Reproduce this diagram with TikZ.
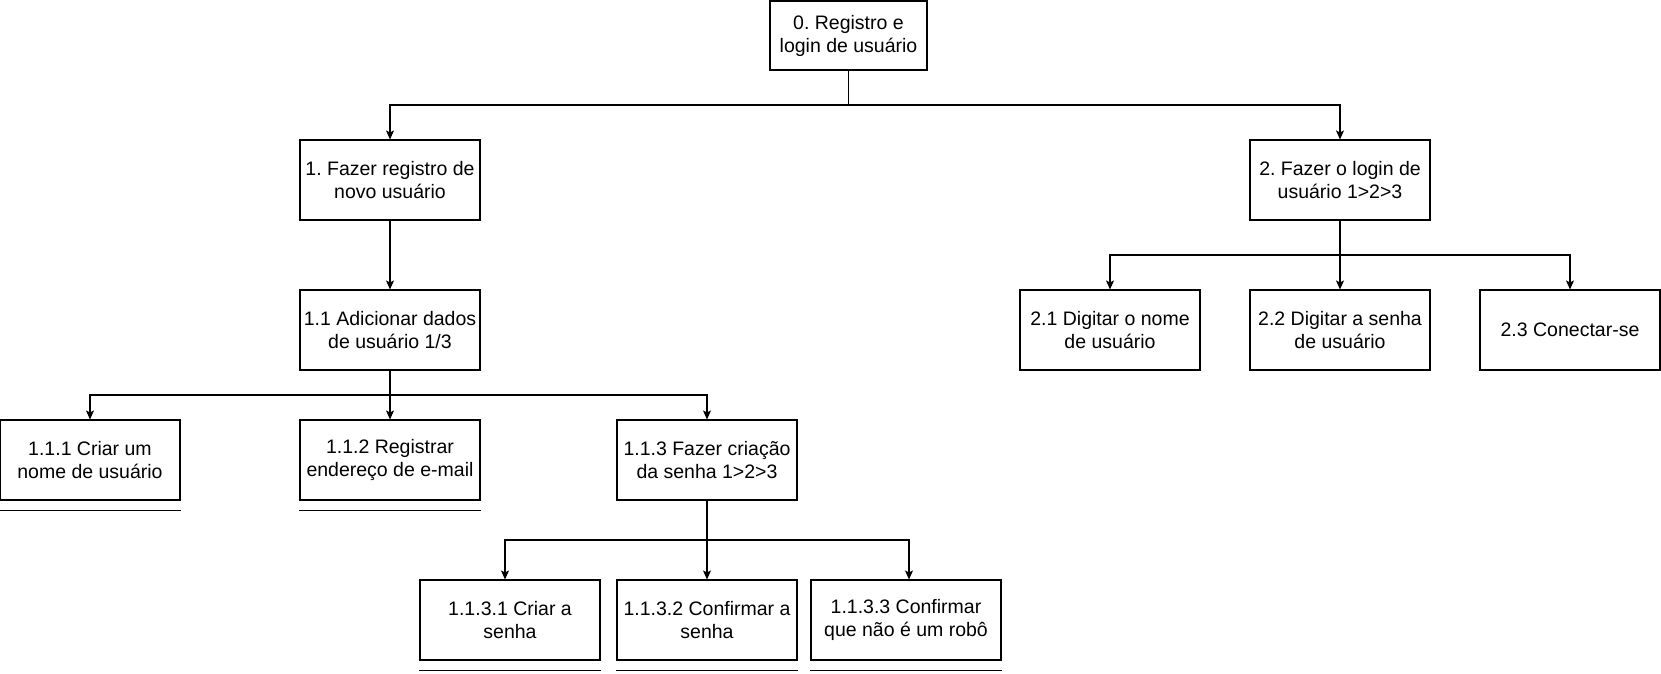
\documentclass[tikz,border=0pt]{standalone}
\usepackage{fontspec}
\setmainfont{Liberation Sans}
\frenchspacing
\usetikzlibrary{arrows.meta}
\begin{document}
\begin{tikzpicture}[x=1pt,y=-1pt,
  box/.style={draw, line width=1.15pt, minimum width=180pt, minimum height=80pt, inner sep=0pt, align=center, font=\fontsize{19.5}{23}\selectfont},
  arr/.style={line width=1.15pt, -{Stealth[length=9pt,width=8pt,inset=2pt]}},
  conn/.style={line width=1.15pt},
  uline/.style={line width=1.15pt}]
\useasboundingbox (0,0) rectangle (1661,673);
\node[box, minimum width=157pt, minimum height=69pt] (root) at (848.5,35.5) {0. Registro e\\login de usuário};
\node[box] (n1) at (390,180) {1. Fazer registro de\\novo usuário};
\node[box] (n2) at (1340,180) {2. Fazer o login de\\usuário 1>2>3};
\node[box] (n11) at (390,330) {1.1 Adicionar dados\\de usuário 1/3};
\node[box] (n111) at (90,460) {1.1.1 Criar um\\nome de usuário};
\node[box] (n112) at (390,460) {1.1.2 Registrar\\endereço de e-mail};
\node[box] (n113) at (707,460) {1.1.3 Fazer criação\\da senha 1>2>3};
\node[box] (n1131) at (510,620) {1.1.3.1 Criar a\\senha};
\node[box] (n1132) at (707,620) {1.1.3.2 Confirmar a\\senha};
\node[box, minimum width=190pt] (n1133) at (906,620) {1.1.3.3 Confirmar\\que não é um robô};
\node[box] (n21) at (1110,330) {2.1 Digitar o nome\\de usuário};
\node[box] (n22) at (1340,330) {2.2 Digitar a senha\\de usuário};
\node[box] (n23) at (1570,330) {2.3 Conectar-se};

\coordinate (j0) at (848.5,105);
\coordinate (j11) at (390,395);
\coordinate (j113) at (707,540);
\coordinate (j2) at (1340,255);

\draw[conn] (root) -- (j0);
\draw[arr] (j0) -| (n1);
\draw[arr] (j0) -| (n2);
\draw[arr] (n1) -- (n11);
\draw[conn] (n11) -- (j11);
\draw[arr] (j11) -| (n111);
\draw[arr] (j11) -- (n112);
\draw[arr] (j11) -| (n113);
\draw[conn] (n113) -- (j113);
\draw[arr] (j113) -| ([xshift=-5pt]n1131.north);
\draw[arr] (j113) -- (n1132);
\draw[arr] (j113) -| ([xshift=3pt]n1133.north);
\draw[conn] (n2) -- (j2);
\draw[arr] (j2) -| (n21);
\draw[arr] (j2) -- (n22);
\draw[arr] (j2) -| (n23);

\foreach \n in {n111,n112,n1131,n1132,n1133}
  \draw[uline] ([yshift=-10pt]\n.south west) -- ([yshift=-10pt]\n.south east);
\end{tikzpicture}
\end{document}
